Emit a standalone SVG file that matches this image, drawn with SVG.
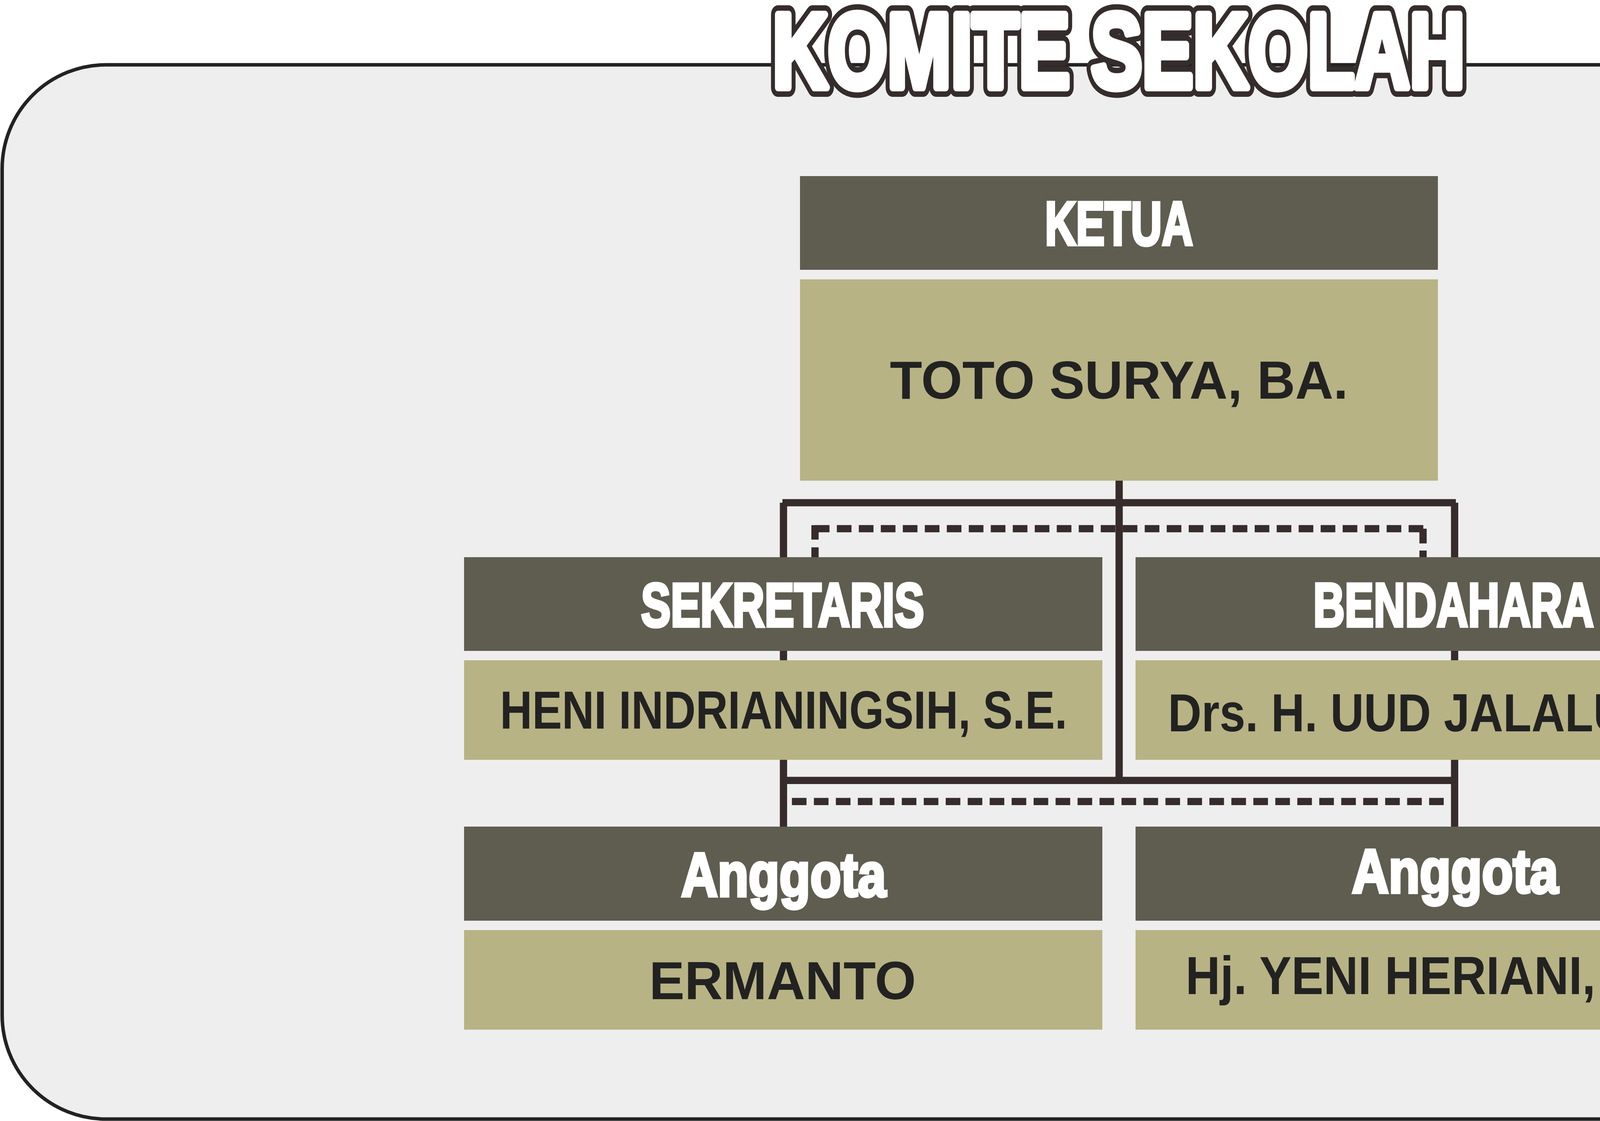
<svg xmlns="http://www.w3.org/2000/svg" width="5810" height="2871" viewBox="0 0 5810 2871">
<style>
.frame{fill:#eeeeee;stroke:#222222;stroke-width:9}
.hdr{fill:#5e5d50}
.nm{fill:#b7b384}
.ht{font-family:'Liberation Sans',Arial,sans-serif;font-weight:bold;font-size:158px;fill:#ffffff;stroke:#ffffff;stroke-width:8;stroke-linejoin:miter}
.nt{font-family:'Liberation Sans',Arial,sans-serif;font-weight:bold;font-size:137px;fill:#222222}
.title{font-family:'Liberation Sans',Arial,sans-serif;font-weight:bold;font-size:271px}
.tback{fill:#352d2b;stroke:#352d2b;stroke-width:48;stroke-linejoin:round}
.tfront{fill:#ffffff;stroke:#ffffff;stroke-width:20;stroke-linejoin:round}
.ln{fill:none;stroke:#352c2b;stroke-width:18.6;stroke-linecap:butt}
</style>
<rect width="5810" height="2871" fill="#ffffff"/>
<rect id="frame" class="frame" x="5.5" y="166" width="5799.5" height="2700" rx="266" ry="266"/>
<g id="title">
<text class="title tback" x="1978" y="224" textLength="1772" lengthAdjust="spacingAndGlyphs">KOMITE SEKOLAH</text>
<text class="title tfront" x="1978" y="224" textLength="1772" lengthAdjust="spacingAndGlyphs">KOMITE SEKOLAH</text>
</g>
<g id="connectors">
<path class="ln" d="M2865,1231 V1999"/>
<path class="ln" d="M2003,1287.5 H3727"/>
<path class="ln" d="M2005.7,1287.5 V2117"/>
<path class="ln" d="M3723.8,1287.5 V2117"/>
<path class="ln" d="M2005.7,1998.8 H3723.8"/>
<path class="ln" d="M2086,1354 H3644" stroke-dasharray="37.5 18.8"/>
<path class="ln" d="M2086.4,1345 V1427" stroke-dasharray="37 19.7"/>
<path class="ln" d="M3643,1354 V1427" stroke-dasharray="37.7 18.3"/>
<path class="ln" d="M2027.3,2052.7 H3697" stroke-dasharray="37.4 18.85"/>
</g>
<g id="ketua">
<rect class="hdr" x="2048" y="451" width="1633" height="240"/>
<text class="ht" x="2675" y="627" textLength="379" lengthAdjust="spacingAndGlyphs">KETUA</text>
<rect class="nm" x="2048" y="715.5" width="1633" height="515.5"/>
<text class="nt" x="2278" y="1021" font-size="136" textLength="1173" lengthAdjust="spacingAndGlyphs">TOTO SURYA, BA.</text>
</g>
<g id="sekretaris">
<rect class="hdr" x="1188" y="1427" width="1634" height="240"/>
<text class="ht" x="1641" y="1604" textLength="725" lengthAdjust="spacingAndGlyphs">SEKRETARIS</text>
<rect class="nm" x="1188" y="1691" width="1634" height="255"/>
<text class="nt" x="1280" y="1866" textLength="1452" lengthAdjust="spacingAndGlyphs">HENI INDRIANINGSIH, S.E.</text>
</g>
<g id="bendahara">
<rect class="hdr" x="2907" y="1427" width="1631" height="240"/>
<text class="ht" x="3362" y="1604" textLength="718" lengthAdjust="spacingAndGlyphs">BENDAHARA</text>
<rect class="nm" x="2907" y="1691" width="1631" height="255"/>
<text class="nt" x="2990" y="1873" textLength="1465" lengthAdjust="spacingAndGlyphs">Drs. H. UUD JALALUDDIN</text>
</g>
<g id="anggota1">
<rect class="hdr" x="1188" y="2117" width="1634" height="241"/>
<text class="ht" x="1744" y="2295" font-size="159" textLength="524" lengthAdjust="spacingAndGlyphs">Anggota</text>
<rect class="nm" x="1188" y="2382" width="1634" height="255"/>
<text class="nt" x="1662" y="2559" textLength="683" lengthAdjust="spacingAndGlyphs">ERMANTO</text>
</g>
<g id="anggota2">
<rect class="hdr" x="2907" y="2117" width="1631" height="241"/>
<text class="ht" x="3461" y="2286" font-size="159" textLength="528" lengthAdjust="spacingAndGlyphs">Anggota</text>
<rect class="nm" x="2907" y="2382" width="1631" height="255"/>
<text class="nt" x="3035" y="2546" textLength="1375" lengthAdjust="spacingAndGlyphs">Hj. YENI HERIANI, S.TP.</text>
</g>
</svg>
